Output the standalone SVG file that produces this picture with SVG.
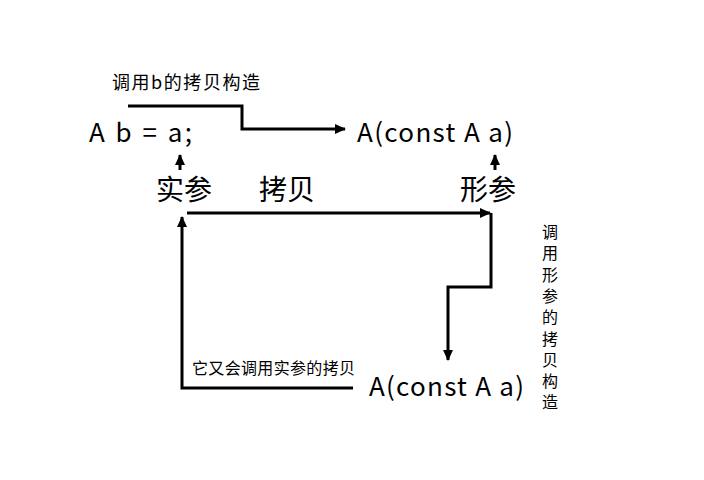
<svg xmlns="http://www.w3.org/2000/svg" width="704" height="480" viewBox="0 0 704 480">
<defs>
<style>
text{font-family:"Noto Sans CJK SC","Noto Sans",sans-serif;fill:#000}
.code{font-size:26px}
.big{font-size:28px}
.sm{font-size:18px}
.xs{font-size:16px}
.vt{font-size:16px;writing-mode:vertical-rl;letter-spacing:5.3px}
.c{fill:none;stroke:#000;stroke-width:3}
</style>
<marker id="ah" markerWidth="11" markerHeight="10" refX="10" refY="5" orient="auto" markerUnits="userSpaceOnUse">
<path d="M0,0 L11,5 L0,10 Z" fill="#000"/>
</marker>
</defs>
<rect width="704" height="480" fill="#fff"/>
<g id="n_ab"><text class="code" x="89" y="142" textLength="103" lengthAdjust="spacing">A b = a;</text></g>
<g id="n_ctor1"><text class="code" x="357" y="142" textLength="156" lengthAdjust="spacing">A(const A a)</text></g>
<g id="n_shican"><text class="big" x="156" y="200">实参</text></g>
<g id="n_kaobei"><text class="big" x="259" y="200">拷贝</text></g>
<g id="n_xingcan"><text class="big" x="460" y="200">形参</text></g>
<g id="n_ctor2"><text class="code" x="369" y="396" textLength="155" lengthAdjust="spacing">A(const A a)</text></g>
<g id="labels">
<text class="sm" x="112" y="89" textLength="148" lengthAdjust="spacing">调用b的拷贝构造</text>
<text class="xs" x="192" y="374" textLength="163" lengthAdjust="spacing">它又会调用实参的拷贝</text>
<text class="vt" x="550" y="224">调用形参的拷贝构造</text>
</g>
<g id="connectors">
<path class="c" d="M128,106 H242 V129 H345" marker-end="url(#ah)"/>
<path class="c" d="M180,170 V155" marker-end="url(#ah)"/>
<path class="c" d="M495,170 V155" marker-end="url(#ah)"/>
<path class="c" d="M187,213 H490" marker-end="url(#ah)"/>
<path class="c" d="M491,213 V287 H448 V360" marker-end="url(#ah)"/>
<path class="c" d="M353,388 H182 V217" marker-end="url(#ah)"/>
</g>
</svg>
